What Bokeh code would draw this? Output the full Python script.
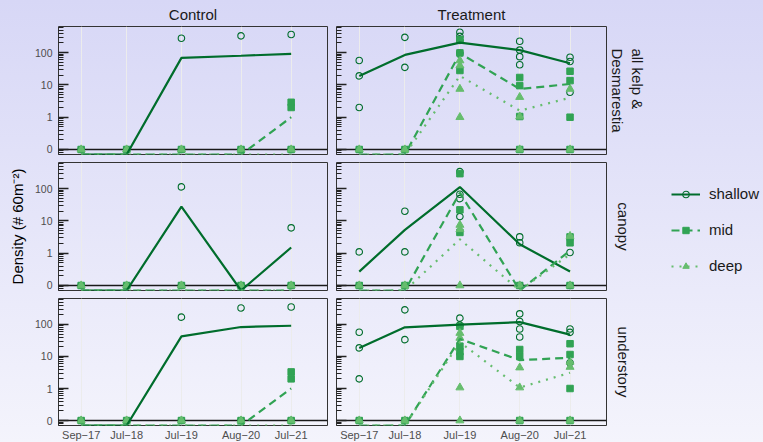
import pandas as pd
from bokeh.plotting import figure
from bokeh.layouts import row, column
from bokeh.models import (Range1d, FixedTicker, Span, Grid, Title, Legend,
                          LegendItem, CustomJSTickFormatter)
from bokeh.embed import file_html
from bokeh.resources import INLINE

# ---------------- data ----------------
dates = ["2017-09-15", "2018-07-15", "2019-07-15", "2020-08-15", "2021-07-15"]
date_labels = ["Sep\u221217", "Jul\u221218", "Jul\u221219", "Aug\u221220", "Jul\u221221"]
y_tick_values = [0, 1, 10, 100]
y_tick_labels = ["0", "1", "10", "100"]
treatments = ["Control", "Treatment"]
groups = ["all kelp &\nDesmarestia", "canopy", "understory"]
depths = ["shallow", "mid", "deep"]

# site densities per survey (one inner list per date), 0 = none
c_all_sh = [[0], [0], [279, 0], [331, 0], [363, 0]]
c_all_mid = [[0], [0], [0], [0], [2.9, 2.0, 0]]
c_all_dp = [[0], [0], [0], [0], [0]]
c_all_sh_line = [0, 0, 69, 80, 92]
c_all_mid_line = [0, 0, 0, 0, 1.0]
c_all_dp_line = [0, 0, 0, 0, 0]

t_all_sh = [[57, 19, 2.0, 0], [298, 35, 0], [430, 320, 240, 97], [225, 120, 75, 42], [72, 53, 5.9]]
t_all_mid = [[0], [0], [250, 98, 28], [17, 9.5, 1.05, 0], [26.5, 13.6, 1.0, 0]]
t_all_dp = [[0], [0], [57, 40, 7.5, 1.0], [4.2, 1.05, 0], [7.5, 0]]
t_all_sh_line = [19, 85, 205, 120, 47]
t_all_mid_line = [0, 0, 95, 7.5, 10.7]
t_all_dp_line = [0, 0, 19, 1.6, 4.0]

c_can_sh = [[0], [0], [113, 0], [0], [6.1, 0]]
c_can_mid = [[0], [0], [0], [0], [0]]
c_can_dp = [[0], [0], [0], [0], [0]]
c_can_sh_line = [0, 0, 27.7, 0, 1.5]
c_can_mid_line = [0, 0, 0, 0, 0]
c_can_dp_line = [0, 0, 0, 0, 0]

t_can_sh = [[1.1, 0], [20, 1.1, 0], [336, 67, 49, 13.6], [3.2, 2.1, 0], [1.05, 0]]
t_can_mid = [[0], [0], [291, 22, 4.4], [0], [3.2, 2.1, 0]]
t_can_dp = [[0], [0], [7.5, 5.5, 0], [0], [3.4, 0]]
t_can_sh_line = [0.27, 5.3, 112, 1.9, 0.27]
t_can_mid_line = [0, 0, 75, 0, 1.2]
t_can_dp_line = [0, 0, 2.7, 0, 0.93]

c_und_sh = [[0], [0], [169, 0], [327, 0], [352, 0]]
c_und_mid = [[0], [0], [0], [0], [3.3, 2.0, 0]]
c_und_dp = [[0], [0], [0], [0], [0]]
c_und_sh_line = [0, 0, 42.5, 83, 91]
c_und_mid_line = [0, 0, 0, 0, 1.0]
c_und_dp_line = [0, 0, 0, 0, 0]

t_und_sh = [[57, 18.5, 2.0, 0], [285, 33.5, 0], [157, 95], [214, 124, 72, 40.5], [72, 56.6, 6.4]]
t_und_mid = [[0], [0], [87, 21, 14, 10], [16.5, 10.3, 0], [25, 11.5, 1.0, 0]]
t_und_dp = [[0], [0], [54, 38, 1.07, 0], [4.5, 1.07, 0], [6.8, 4.7, 0]]
t_und_sh_line = [18.5, 81, 98, 118, 48]
t_und_mid_line = [0, 0, 35, 7.7, 9.1]
t_und_dp_line = [0, 0, 28, 1.07, 3.1]

panels = {
    (0, 0): ([c_all_sh, c_all_mid, c_all_dp], [c_all_sh_line, c_all_mid_line, c_all_dp_line]),
    (0, 1): ([t_all_sh, t_all_mid, t_all_dp], [t_all_sh_line, t_all_mid_line, t_all_dp_line]),
    (1, 0): ([c_can_sh, c_can_mid, c_can_dp], [c_can_sh_line, c_can_mid_line, c_can_dp_line]),
    (1, 1): ([t_can_sh, t_can_mid, t_can_dp], [t_can_sh_line, t_can_mid_line, t_can_dp_line]),
    (2, 0): ([c_und_sh, c_und_mid, c_und_dp], [c_und_sh_line, c_und_mid_line, c_und_dp_line]),
    (2, 1): ([t_und_sh, t_und_mid, t_und_dp], [t_und_sh_line, t_und_mid_line, t_und_dp_line]),
}

# ---------------- style ----------------
FONT = "Liberation Sans"
COLORS = ["#006d2c", "#31a354", "#66bd6e"]
DASHES = ["solid", "8 5", "2 6"]
LWS = [2.2, 2.2, 2.2]
ZERO_Y = 0.1          # where "0" sits on the log axis
Y_MIN, Y_MAX = 0.07, 645

x_dates = pd.to_datetime(dates)
x_ms = [d.value / 1e6 for d in x_dates]
x_start = x_dates[0] - pd.Timedelta(days=151)
x_end = x_dates[-1] + pd.Timedelta(days=242)

y_major = [v if v > 0 else ZERO_Y for v in y_tick_values]
y_minor = [m * 10.0 ** e for e in range(-2, 3) for m in range(2, 10)
           if Y_MIN <= m * 10.0 ** e <= Y_MAX]


def flatten(series):
    xs, ys = [], []
    for d, vals in zip(x_dates, series):
        for v in vals:
            xs.append(d)
            ys.append(v if v > 0 else ZERO_Y)
    return xs, ys


def make_panel(r, c):
    left = c == 0
    bottom = r == 2
    p = figure(frame_width=269 if left else 270, frame_height=128 if r < 2 else 127,
               x_axis_type="datetime", y_axis_type="log",
               x_range=Range1d(x_start, x_end), y_range=Range1d(Y_MIN, Y_MAX),
               x_axis_location="below" if bottom else None,
               output_backend="svg", toolbar_location=None,
               min_border_left=58 if left else 5, min_border_right=4 if left else 39,
               min_border_top=26 if r == 0 else 4, min_border_bottom=17 if bottom else 4,
               background_fill_alpha=0, border_fill_alpha=0,
               outline_line_color="#333333", outline_line_width=1)
    p.center = [m for m in p.center if not isinstance(m, Grid)]
    p.add_layout(Grid(dimension=0, ticker=FixedTicker(ticks=x_ms),
                      grid_line_color="#ececec", grid_line_width=1))
    zero = Span(location=ZERO_Y, dimension="width", line_color="#1a1a1a",
                line_width=1.6, level="underlay")
    p.add_layout(zero)

    ya = p.yaxis[0]
    ya.ticker = FixedTicker(ticks=y_major, minor_ticks=y_minor)
    ya.axis_line_color = None
    ya.major_tick_in = 10
    ya.major_tick_out = 0
    ya.minor_tick_in = 5
    ya.minor_tick_out = 0
    ya.major_tick_line_color = "#222222"
    ya.minor_tick_line_color = "#222222"
    ya.major_tick_line_width = 1.5
    if left:
        ya.major_label_overrides = dict(zip(y_major, y_tick_labels))
        ya.major_label_text_font = FONT
        ya.major_label_text_font_size = "10.5px"
        ya.major_label_text_color = "#4d4d4d"
        ya.major_label_standoff = 6
    else:
        ya.formatter = CustomJSTickFormatter(code="return ''")
        ya.major_label_standoff = 0
        ya.major_label_text_font_size = "1px"
    if left and r == 1:
        ya.axis_label = "Density (# 60m\u207b\u00b2)"
        ya.axis_label_text_font = FONT
        ya.axis_label_text_font_size = "15px"
        ya.axis_label_text_font_style = "normal"
        ya.axis_label_text_color = "#000000"
        ya.axis_label_standoff = 6

    if bottom:
        xa = p.xaxis[0]
        xa.ticker = FixedTicker(ticks=x_ms)
        xa.major_label_overrides = dict(zip(x_ms, date_labels))
        xa.axis_line_color = None
        xa.major_tick_in = 0
        xa.major_tick_out = 0
        xa.minor_tick_in = 0
        xa.minor_tick_out = 0
        xa.major_label_standoff = 3
        xa.major_label_text_font = FONT
        xa.major_label_text_font_size = "11px"
        xa.major_label_text_color = "#4d4d4d"

    if r == 0:
        p.title.text = treatments[c]
        p.title.align = "center"
        p.title.text_font = FONT
        p.title.text_font_size = "15px"
        p.title.text_font_style = "normal"
        p.title.text_color = "#1a1a1a"
        p.title.standoff = 7
    if not left:
        p.add_layout(Title(text=groups[r], align="center", text_font=FONT,
                           text_font_size="15px", text_font_style="normal",
                           text_color="#1a1a1a", text_line_height=1.15,
                           standoff=5 if "\n" in groups[r] else 17), "right")

    pts, lines = panels[(r, c)]
    sx, sy = flatten(pts[0])
    p.scatter(sx, sy, marker="circle", size=6.5, fill_color=None,
              line_color=COLORS[0], line_width=1.1)
    mx, my = flatten(pts[1])
    p.scatter(mx, my, marker="square", size=6.5, fill_color=COLORS[1], line_color=COLORS[1])
    dx, dy = flatten(pts[2])
    p.scatter(dx, dy, marker="triangle", size=8, fill_color=COLORS[2], line_color=COLORS[2])
    for k in range(3):
        ly = [v if v > 0 else Y_MIN for v in lines[k]]
        p.line(list(x_dates), ly, line_color=COLORS[k], line_width=LWS[k],
               line_dash=DASHES[k])
    return p


figs = {(r, c): make_panel(r, c) for r in range(3) for c in range(2)}
col_left = column(figs[(0, 0)], figs[(1, 0)], figs[(2, 0)])
col_right = column(figs[(0, 1)], figs[(1, 1)], figs[(2, 1)])

# legend panel (key glyphs only; their data lies outside the visible range)
lg = figure(width=118, height=442, x_range=Range1d(0, 1), y_range=Range1d(0, 1),
            output_backend="svg", toolbar_location=None, min_border=0,
            x_axis_location=None, y_axis_location=None, outline_line_color=None,
            background_fill_alpha=0, border_fill_alpha=0)
lg.grid.visible = False
items = []
markers = ["circle", "square", "triangle"]
for k, name in enumerate(depths):
    lr = lg.line([5, 6], [5, 6], line_color=COLORS[k], line_width=2.0,
                 line_dash=DASHES[k])
    if k == 0:
        sr = lg.scatter([5], [5], marker=markers[k], fill_color=None, line_color=COLORS[k],
                        line_width=1.1, size=5)
    else:
        sr = lg.scatter([5], [5], marker=markers[k], fill_color=COLORS[k],
                        line_color=COLORS[k], size=6)
    items.append(LegendItem(label=name, renderers=[lr, sr]))
legend = Legend(items=items, location=(21, 168), border_line_color=None,
                background_fill_alpha=0, padding=0, margin=0, glyph_width=29,
                glyph_height=16, label_height=16, spacing=19, label_standoff=9,
                label_text_font=FONT, label_text_font_size="15px",
                label_text_color="#1a1a1a")
lg.add_layout(legend)

layout = row(col_left, col_right, lg,
             styles={"background": "linear-gradient(180deg, #d7d7f6 0%, #f4f4fc 100%)"})

open("out.html", "w").write(file_html(layout, INLINE))
